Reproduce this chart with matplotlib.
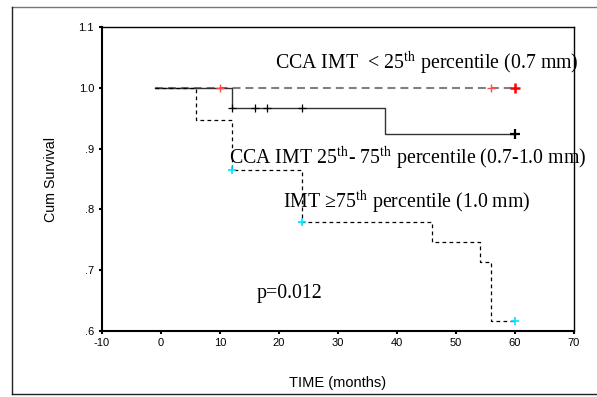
import matplotlib
matplotlib.use("Agg")
import matplotlib.pyplot as plt
from matplotlib.lines import Line2D

plt.rcParams['mathtext.fontset'] = 'stix'

# Kaplan-Meier step data
g1_time = [-1, 60]
g1_surv = [1.0, 1.0]
g1_cens_time = [10, 56, 60]
g1_cens_surv = [1.0, 1.0, 1.0]

g2_time = [-1, 12, 38, 60]
g2_surv = [1.0, 0.967, 0.924, 0.924]
g2_cens_time = [12, 16, 18, 24, 60]
g2_cens_surv = [0.967, 0.967, 0.967, 0.967, 0.924]

g3_time = [-1, 6, 12, 24, 46, 54, 56, 60]
g3_surv = [1.0, 0.948, 0.865, 0.779, 0.747, 0.714, 0.616, 0.616]
g3_cens_time = [12, 24, 60]
g3_cens_surv = [0.865, 0.779, 0.616]

x_ticks = [-10, 0, 10, 20, 30, 40, 50, 60, 70]
y_ticks = [0.6, 0.7, 0.8, 0.9, 1.0, 1.1]
y_ticklabels = ['.6', '.7', '.8', '.9', '1.0', '1.1']

fig = plt.figure(figsize=(5.97, 3.97), dpi=100)
ax = fig.add_axes([0.1704, 0.167, 0.7911, 0.7642])

# outer frame of the original figure (right edge off the picture)
fig.add_artist(Line2D([0.020, 1.0], [0.982, 0.982], transform=fig.transFigure, color='#777777', lw=1))
fig.add_artist(Line2D([0.020, 0.020], [0.007, 0.982], transform=fig.transFigure, color='#222222', lw=1))
fig.add_artist(Line2D([0.020, 1.0], [0.007, 0.007], transform=fig.transFigure, color='#222222', lw=1))

ax.step(g1_time, g1_surv, where='post', color='#808080', lw=1.5, dashes=(3.8, 2.4))
ax.step(g2_time, g2_surv, where='post', color='#333333', lw=1.0)
ax.step(g3_time, g3_surv, where='post', color='black', lw=0.9, dashes=(3, 2.6))

ax.plot(g1_cens_time[:2], g1_cens_surv[:2], '+', color='#ff5050', ms=6, mew=1.0)
ax.plot(g1_cens_time[2:], g1_cens_surv[2:], '+', color='#ff0000', ms=7, mew=1.8)
ax.plot(g2_cens_time[:-1], g2_cens_surv[:-1], '+', color='black', ms=6, mew=0.9)
ax.plot(g2_cens_time[-1:], g2_cens_surv[-1:], '+', color='black', ms=7, mew=1.6)
ax.plot(g3_cens_time, g3_cens_surv, '+', color='#00e5ff', ms=6, mew=1.2)

ax.set_xlim(-10, 70)
ax.set_ylim(0.6, 1.1)
ax.set_xticks(x_ticks)
ax.set_xticklabels([str(t) for t in x_ticks], fontsize=8, family='Liberation Sans')
ax.set_yticks(y_ticks)
ax.set_yticklabels(y_ticklabels, fontsize=8, family='Liberation Sans')
ax.tick_params(direction='out', length=2.5, width=1.5, pad=3)
for side in ['left', 'bottom']:
    ax.spines[side].set_linewidth(1.5)
for side in ['top', 'right']:
    ax.spines[side].set_linewidth(1.0)

ax.set_xlabel('TIME (months)', fontsize=10.5, family='Liberation Sans', labelpad=20)
ax.set_ylabel('Cum Survival', fontsize=10.3, family='Liberation Sans', labelpad=15)

serif = dict(family='Liberation Serif', fontsize=14.3, va='center', ha='left')
ax.text(19.4, 1.041, r'CCA IMT  < 25$^{\mathrm{th}}$ percentile (0.7 mm)', **serif)
ax.text(11.6, 0.884, r'CCA IMT 25$^{\mathrm{th}}$- 75$^{\mathrm{th}}$ percentile (0.7-1.0 mm)', **serif)
ax.text(20.7, 0.811, r'IMT ≥75$^{\mathrm{th}}$ percentile (1.0 mm)', **serif)
ax.text(16.2, 0.661, 'p=0.012', **serif)

fig.savefig('out.png', dpi=100)
